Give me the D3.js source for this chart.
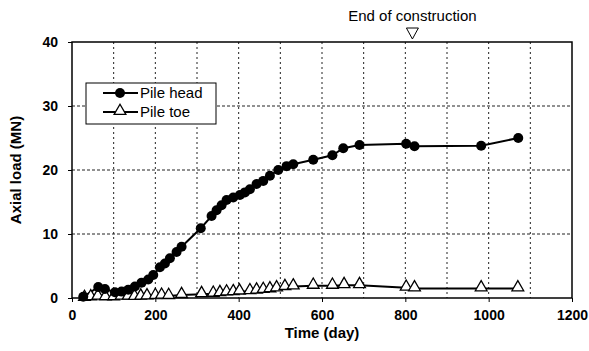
<!DOCTYPE html>
<html>
<head>
<meta charset="utf-8">
<script src="https://cdn.jsdelivr.net/npm/d3@7"></script>
<style>
  body { margin: 0; background: #fff; }
  svg { display: block; font-family: "Liberation Sans", Arial, sans-serif; }
</style>
</head>
<body>
<svg id="chart" width="589" height="351"></svg>
<script>
// pile head readings
const headDays = [27, 63, 79, 103, 119, 135, 151, 167, 183, 195, 211, 223, 235, 251, 263, 309, 335, 347, 359, 371, 387, 403, 415, 427, 443, 459, 475, 495, 515, 531, 579, 625, 651, 690, 802, 822, 982, 1071];
const headLoad = [0.2, 1.7, 1.4, 0.9, 1.0, 1.3, 1.8, 2.4, 2.9, 3.6, 4.8, 5.4, 6.2, 7.2, 8.0, 10.9, 12.8, 13.7, 14.5, 15.3, 15.7, 16.1, 16.5, 17.0, 17.8, 18.3, 19.1, 20.0, 20.6, 20.9, 21.6, 22.3, 23.4, 23.9, 24.1, 23.7, 23.8, 25.0];

// pile toe readings
const toeDays = [30, 45, 62, 80, 100, 118, 135, 150, 165, 180, 200, 215, 232, 263, 311, 339, 355, 371, 387, 402, 427, 443, 459, 475, 491, 511, 531, 579, 625, 653, 690, 802, 822, 982, 1070];
const toeLoad = [0.0, 0.1, 0.2, 0.1, 0.1, 0.2, 0.2, 0.15, 0.2, 0.25, 0.3, 0.35, 0.3, 0.45, 0.6, 0.65, 0.75, 0.85, 0.9, 1.0, 1.05, 1.15, 1.25, 1.35, 1.5, 1.7, 1.8, 1.9, 1.9, 2.0, 2.0, 1.6, 1.5, 1.5, 1.5];

const xTicks = [0, 200, 400, 600, 800, 1000, 1200];
const yTicks = [0, 10, 20, 30, 40];
const endOfConstruction = 817;

const svg = d3.select("#chart");
const mLeft = 72, mRight = 572, mTop = 42, mBottom = 298;

const x = d3.scaleLinear().domain([0, 1200]).range([mLeft, mRight]);
const y = d3.scaleLinear().domain([0, 40]).range([mBottom, mTop]);

// grid
const grid = svg.append("g");
grid.selectAll("line.v")
    .data(d3.range(100, 1200, 100))
    .enter().append("line")
    .attr("x1", d => x(d)).attr("x2", d => x(d))
    .attr("y1", mTop).attr("y2", mBottom)
    .attr("stroke", "#222").attr("stroke-width", 1)
    .attr("stroke-dasharray", "2,3");
grid.selectAll("line.h")
    .data([10, 20, 30])
    .enter().append("line")
    .attr("x1", mLeft).attr("x2", mRight)
    .attr("y1", d => y(d)).attr("y2", d => y(d))
    .attr("stroke", "#222").attr("stroke-width", 1)
    .attr("stroke-dasharray", "3,2");

// frame
svg.append("rect")
    .attr("x", mLeft).attr("y", mTop)
    .attr("width", mRight - mLeft).attr("height", mBottom - mTop)
    .attr("fill", "none").attr("stroke", "#000").attr("stroke-width", 1.5);

// axes
const xAxis = svg.append("g")
    .attr("transform", `translate(0,${mBottom})`)
    .call(d3.axisBottom(x).tickValues(xTicks).tickFormat(d3.format("d")).tickSize(4).tickPadding(8));
const yAxis = svg.append("g")
    .attr("transform", `translate(${mLeft},0)`)
    .call(d3.axisLeft(y).tickValues(yTicks).tickFormat(d3.format("d")).tickSize(4).tickPadding(10));
[xAxis, yAxis].forEach(a => {
    a.select(".domain").remove();
    a.selectAll("text")
        .attr("font-family", "Liberation Sans, Arial, sans-serif")
        .attr("font-size", 14).attr("font-weight", "bold").attr("fill", "#000");
    a.selectAll("line").attr("stroke", "#000");
});

svg.append("text")
    .attr("x", (mLeft + mRight) / 2).attr("y", 338)
    .attr("text-anchor", "middle")
    .attr("font-size", 15).attr("font-weight", "bold")
    .text("Time (day)");
svg.append("text")
    .attr("transform", `translate(21,${(mTop + mBottom) / 2}) rotate(-90)`)
    .attr("text-anchor", "middle")
    .attr("font-size", 15).attr("font-weight", "bold")
    .text("Axial load (MN)");

// series
const line = d3.line().x(d => x(d[0])).y(d => y(d[1]));
const head = headDays.map((d, i) => [d, headLoad[i]]);
const toe = toeDays.map((d, i) => [d, toeLoad[i]]);
const tri = d3.symbol().type(d3.symbolTriangle).size(60);

svg.append("path").datum(toe).attr("d", line)
    .attr("fill", "none").attr("stroke", "#000").attr("stroke-width", 2);
svg.append("path").datum(head).attr("d", line)
    .attr("fill", "none").attr("stroke", "#000").attr("stroke-width", 2);

svg.append("g").selectAll("path")
    .data(toe)
    .enter().append("path")
    .attr("d", tri)
    .attr("transform", d => `translate(${x(d[0])},${y(d[1]) - 1})`)
    .attr("fill", "#fff").attr("stroke", "#000").attr("stroke-width", 1.3);

svg.append("g").selectAll("circle")
    .data(head)
    .enter().append("circle")
    .attr("cx", d => x(d[0])).attr("cy", d => y(d[1]))
    .attr("r", 5).attr("fill", "#000");

// end of construction marker
const ex = x(endOfConstruction);
svg.append("path")
    .attr("d", `M${ex - 6},28 L${ex + 6},28 L${ex},39 Z`)
    .attr("fill", "#fff").attr("stroke", "#000").attr("stroke-width", 1);
svg.append("text")
    .attr("x", ex).attr("y", 21)
    .attr("text-anchor", "middle").attr("font-size", 15)
    .text("End of construction");

// legend
const lg = svg.append("g");
lg.append("rect")
    .attr("x", 86).attr("y", 83).attr("width", 130).attr("height", 41)
    .attr("fill", "#fff").attr("stroke", "#000").attr("stroke-width", 1);
const items = [{ name: "Pile head", y: 93, type: "dot" }, { name: "Pile toe", y: 112, type: "tri" }];
items.forEach(it => {
    lg.append("line")
        .attr("x1", 103).attr("x2", 138).attr("y1", it.y).attr("y2", it.y)
        .attr("stroke", "#000").attr("stroke-width", 2);
    if (it.type == "dot") {
        lg.append("circle").attr("cx", 120).attr("cy", it.y).attr("r", 5).attr("fill", "#000");
    } else {
        lg.append("path").attr("d", tri)
            .attr("transform", `translate(120,${it.y - 1})`)
            .attr("fill", "#fff").attr("stroke", "#000").attr("stroke-width", 1.3);
    }
    lg.append("text")
        .attr("x", 140).attr("y", it.y + 5)
        .attr("font-size", 15)
        .text(it.name);
});
</script>
</body>
</html>
